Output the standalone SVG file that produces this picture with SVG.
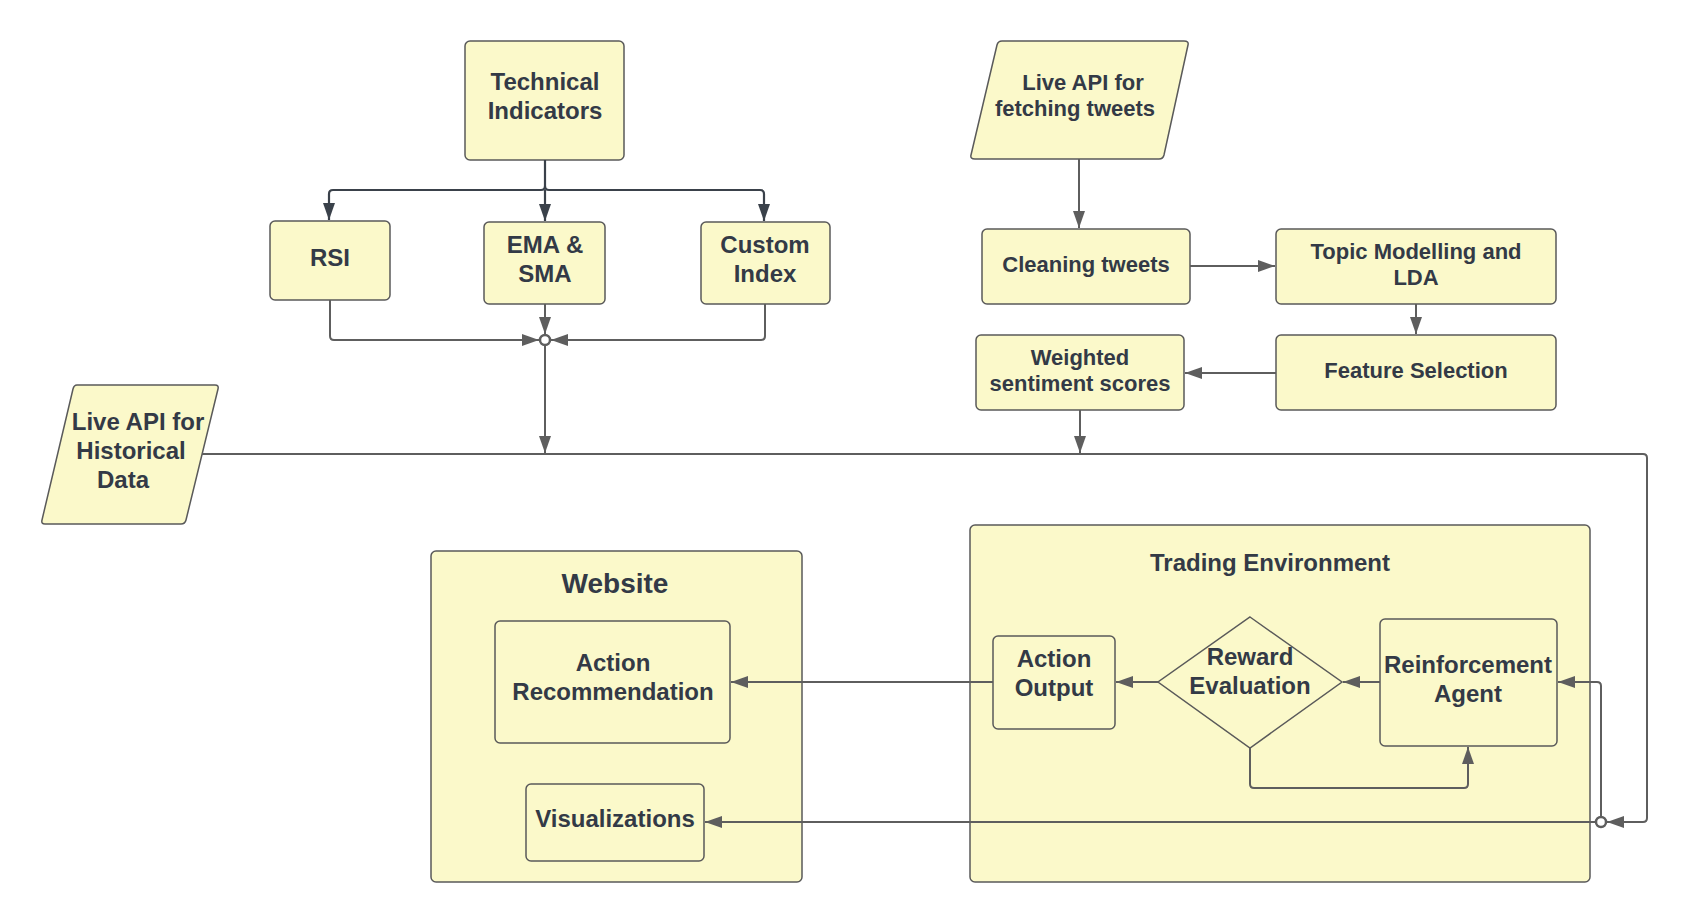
<svg xmlns="http://www.w3.org/2000/svg" width="1688" height="923" viewBox="0 0 1688 923">
<style>
.box{fill:#FBF9CA;stroke:#5A5A5A;stroke-width:1.5}
.t{font-family:"Liberation Sans",Arial,sans-serif;font-weight:bold;fill:#333A46;text-anchor:middle;dominant-baseline:central}
.s24{font-size:24px}.s22{font-size:22px}.s28{font-size:28px}
.c{fill:none;stroke:#5E5E5E;stroke-width:2;stroke-linejoin:round}
.cd{fill:none;stroke:#3A414A;stroke-width:2.2;stroke-linejoin:round}
.j{fill:#fff;stroke:#5E5E5E;stroke-width:2.5}
</style>
<defs>
<marker id="ah" markerUnits="userSpaceOnUse" markerWidth="18" markerHeight="12" refX="17" refY="6" orient="auto"><path d="M0,0 L17,6 L0,12 z" fill="#5E5E5E"/></marker>
<marker id="ahd" markerUnits="userSpaceOnUse" markerWidth="18" markerHeight="12" refX="17" refY="6" orient="auto"><path d="M0,0 L17,6 L0,12 z" fill="#3A414A"/></marker>
</defs>
<rect width="1688" height="923" fill="#fff"/>

<g id="website">
<rect class="box" x="431" y="551" width="371" height="331" rx="5"/>
<text class="t s28" x="615" y="583">Website</text>
</g>
<g id="trading-env">
<rect class="box" x="970" y="525" width="620" height="357" rx="5"/>
<text class="t s24" x="1270" y="562">Trading Environment</text>
</g>

<g id="technical-indicators">
<rect class="box" x="465" y="41" width="159" height="119" rx="5"/>
<text class="t s24" x="545" y="81">Technical</text>
<text class="t s24" x="545" y="110">Indicators</text>
</g>
<g id="rsi">
<rect class="box" x="270" y="221" width="120" height="79" rx="5"/>
<text class="t s24" x="330" y="257">RSI</text>
</g>
<g id="ema-sma">
<rect class="box" x="484" y="222" width="121" height="82" rx="5"/>
<text class="t s24" x="545" y="244">EMA &amp;</text>
<text class="t s24" x="545" y="273">SMA</text>
</g>
<g id="custom-index">
<rect class="box" x="701" y="222" width="129" height="82" rx="5"/>
<text class="t s24" x="765" y="244">Custom</text>
<text class="t s24" x="765" y="273">Index</text>
</g>

<g id="live-api-historical">
<path class="box" d="M77,385 L215,385 Q219,385 218,389 L186,520 Q185,524 181,524 L45,524 Q41,524 42,520 L73,389 Q74,385 77,385 z"/>
<text class="t s24" x="138" y="421">Live API for</text>
<text class="t s24" x="131" y="450">Historical</text>
<text class="t s24" x="123" y="479">Data</text>
</g>

<g id="live-api-tweets">
<path class="box" d="M1002,41 L1184,41 Q1189,41 1188,45 L1164,155 Q1163,159 1159,159 L975,159 Q970,159 971,155 L997,45 Q998,41 1002,41 z"/>
<text class="t s22" x="1083" y="82">Live API for</text>
<text class="t s22" x="1075" y="108">fetching tweets</text>
</g>
<g id="cleaning-tweets">
<rect class="box" x="982" y="229" width="208" height="75" rx="5"/>
<text class="t s22" x="1086" y="264">Cleaning tweets</text>
</g>
<g id="topic-modelling">
<rect class="box" x="1276" y="229" width="280" height="75" rx="5"/>
<text class="t s22" x="1416" y="251">Topic Modelling and</text>
<text class="t s22" x="1416" y="277">LDA</text>
</g>
<g id="feature-selection">
<rect class="box" x="1276" y="335" width="280" height="75" rx="5"/>
<text class="t s22" x="1416" y="370">Feature Selection</text>
</g>
<g id="weighted-sentiment">
<rect class="box" x="976" y="335" width="208" height="75" rx="5"/>
<text class="t s22" x="1080" y="357">Weighted</text>
<text class="t s22" x="1080" y="383">sentiment scores</text>
</g>

<g id="action-recommendation">
<rect class="box" x="495" y="621" width="235" height="122" rx="5"/>
<text class="t s24" x="613" y="662">Action</text>
<text class="t s24" x="613" y="691">Recommendation</text>
</g>
<g id="visualizations">
<rect class="box" x="526" y="784" width="178" height="77" rx="5"/>
<text class="t s24" x="615" y="818">Visualizations</text>
</g>
<g id="action-output">
<rect class="box" x="993" y="636" width="122" height="93" rx="5"/>
<text class="t s24" x="1054" y="658">Action</text>
<text class="t s24" x="1054" y="687">Output</text>
</g>
<g id="reward-evaluation">
<path class="box" d="M1250,617 L1342,682 L1250,748 L1158,682 z"/>
<text class="t s24" x="1250" y="656">Reward</text>
<text class="t s24" x="1250" y="685">Evaluation</text>
</g>
<g id="reinforcement-agent">
<rect class="box" x="1380" y="619" width="177" height="127" rx="5"/>
<text class="t s24" x="1468" y="664">Reinforcement</text>
<text class="t s24" x="1468" y="693">Agent</text>
</g>

<g id="connectors">
<path class="cd" d="M545,160 V186 Q545,190 541,190 H333 Q329,190 329,194 V220" marker-end="url(#ahd)"/>
<path class="cd" d="M545,190 V221" marker-end="url(#ahd)"/>
<path class="cd" d="M545,186 Q545,190 549,190 H760 Q764,190 764,194 V221" marker-end="url(#ahd)"/>
<path class="c" d="M330,300 V336 Q330,340 334,340 H539" marker-end="url(#ah)"/>
<path class="c" d="M545,304 V334" marker-end="url(#ah)"/>
<path class="c" d="M765,304 V336 Q765,340 761,340 H551" marker-end="url(#ah)"/>
<path class="c" d="M545,346 V453" marker-end="url(#ah)"/>
<circle class="j" cx="545" cy="340" r="5"/>

<path class="c" d="M1079,159 V228" marker-end="url(#ah)"/>
<path class="c" d="M1190,266 H1275" marker-end="url(#ah)"/>
<path class="c" d="M1416,304 V334" marker-end="url(#ah)"/>
<path class="c" d="M1276,373 H1185" marker-end="url(#ah)"/>
<path class="c" d="M1080,410 V453" marker-end="url(#ah)"/>

<path class="c" d="M202,454 H1643 Q1647,454 1647,458 V818 Q1647,822 1643,822 H1607" marker-end="url(#ah)"/>
<path class="c" d="M1595,822 H705" marker-end="url(#ah)"/>
<path class="c" d="M1601,816 V686 Q1601,682 1597,682 H1558" marker-end="url(#ah)"/>
<circle class="j" cx="1601" cy="822" r="5"/>

<path class="c" d="M1380,682 H1343" marker-end="url(#ah)"/>
<path class="c" d="M1158,682 H1116" marker-end="url(#ah)"/>
<path class="c" d="M993,682 H731" marker-end="url(#ah)"/>
<path class="c" d="M1250,748 V784 Q1250,788 1254,788 H1464 Q1468,788 1468,784 V747" marker-end="url(#ah)"/>
</g>
</svg>
